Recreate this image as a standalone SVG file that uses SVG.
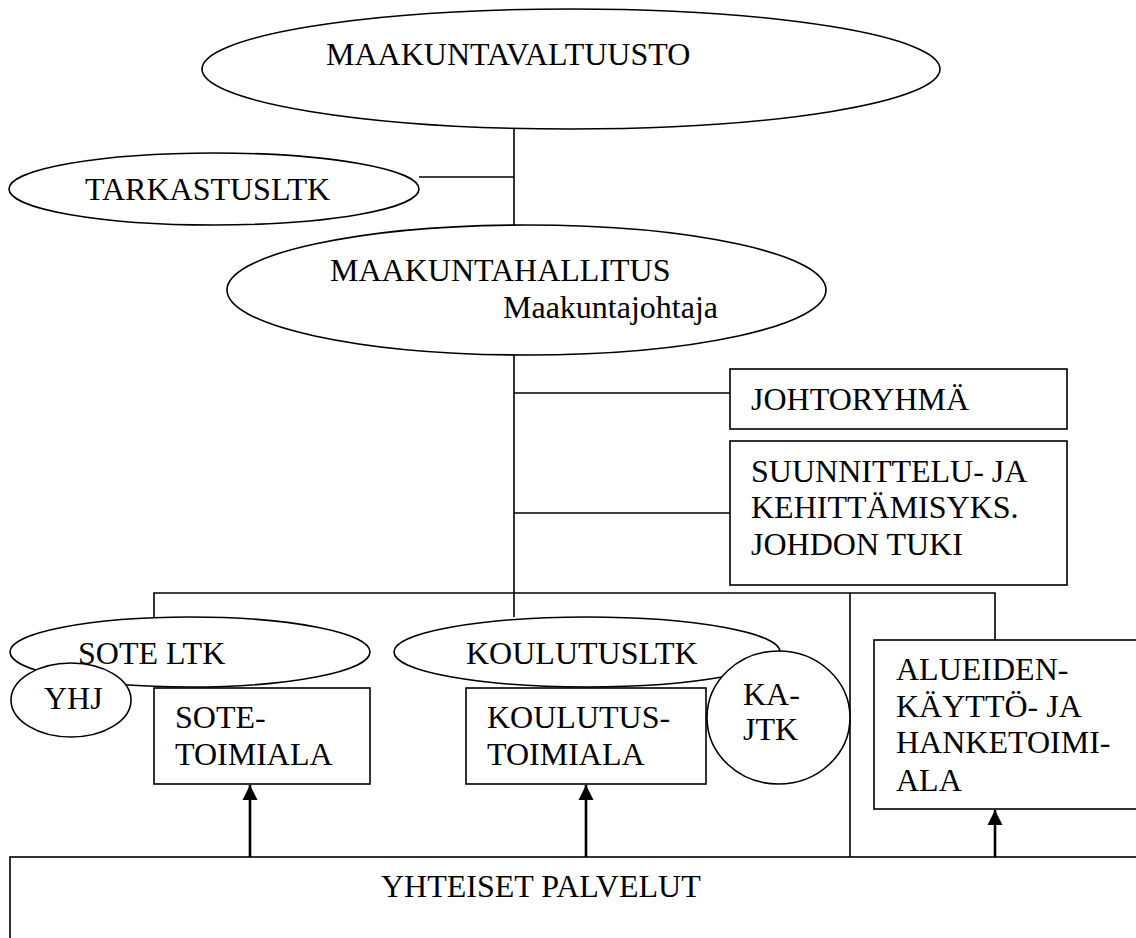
<svg xmlns="http://www.w3.org/2000/svg" width="1136" height="938" viewBox="0 0 1136 938">
  <style>
    .shape { fill: #fff; stroke: #000; stroke-width: 1.6; }
    .line { fill: none; stroke: #000; stroke-width: 1.6; }
    .arrow { fill: none; stroke: #000; stroke-width: 2.6; marker-end: url(#head); }
    text { font-family: 'Liberation Serif', serif; font-size: 32px; fill: #000; }
  </style>
  <defs>
    <marker id="head" markerUnits="userSpaceOnUse" markerWidth="16" markerHeight="16" refX="15" refY="8" orient="auto">
      <path d="M0,0.5 L15,8 L0,15.5 Z" fill="#000"/>
    </marker>
  </defs>
  <rect width="1136" height="938" fill="#fff"/>

  <!-- connectors: org-chart lines and the upward arrows from the shared services -->
  <g id="connectors">
    <path class="line" d="M514,128 V225"/>
    <path class="line" d="M419,177 H514"/>
    <path class="line" d="M514,355 V617"/>
    <path class="line" d="M514,393 H730"/>
    <path class="line" d="M514,513 H730"/>
    <path class="line" d="M154,617 V593 H995 V640"/>
    <path class="line" d="M850,593 V857"/>
    <path class="arrow" d="M250,857 V785"/>
    <path class="arrow" d="M586,857 V785"/>
    <path class="arrow" d="M995,857 V810"/>
  </g>

  <g id="maakuntavaltuusto">
    <ellipse class="shape" cx="571" cy="69" rx="369" ry="60"/>
    <text x="326" y="65">MAAKUNTAVALTUUSTO</text>
  </g>

  <g id="tarkastusltk">
    <ellipse class="shape" cx="214" cy="189" rx="205" ry="36"/>
    <text x="85" y="200">TARKASTUSLTK</text>
  </g>

  <g id="maakuntahallitus">
    <ellipse class="shape" cx="526.5" cy="290" rx="299.5" ry="65"/>
    <text x="330" y="281">MAAKUNTAHALLITUS</text>
    <text x="503" y="318">Maakuntajohtaja</text>
  </g>

  <g id="johtoryhma">
    <rect class="shape" x="730" y="369" width="337" height="60"/>
    <text x="751" y="410">JOHTORYHMÄ</text>
  </g>

  <g id="suunnittelu">
    <rect class="shape" x="730" y="441" width="337" height="144"/>
    <text x="751" y="482">SUUNNITTELU- JA</text>
    <text x="751" y="518">KEHITTÄMISYKS.</text>
    <text x="751" y="555">JOHDON TUKI</text>
  </g>

  <g id="sote-ltk">
    <ellipse class="shape" cx="190" cy="652" rx="180" ry="35"/>
    <text x="78" y="664">SOTE LTK</text>
  </g>

  <g id="yhj">
    <ellipse class="shape" cx="71" cy="700" rx="60" ry="37"/>
    <text x="44" y="709">YHJ</text>
  </g>

  <g id="sote-toimiala">
    <rect class="shape" x="154" y="688" width="216" height="96"/>
    <text x="175" y="728">SOTE-</text>
    <text x="175" y="765">TOIMIALA</text>
  </g>

  <g id="koulutusltk">
    <ellipse class="shape" cx="587" cy="652" rx="193" ry="35"/>
    <text x="466" y="664">KOULUTUSLTK</text>
  </g>

  <g id="koulutus-toimiala">
    <rect class="shape" x="466" y="688" width="240" height="96"/>
    <text x="487" y="728">KOULUTUS-</text>
    <text x="487" y="765">TOIMIALA</text>
  </g>

  <g id="ka-jtk">
    <ellipse class="shape" cx="778.5" cy="717.5" rx="71.5" ry="66.5"/>
    <text x="743" y="705">KA-</text>
    <text x="743" y="740">JTK</text>
  </g>

  <g id="alueidenkaytto">
    <rect class="shape" x="874" y="640" width="280" height="169"/>
    <text x="896" y="680">ALUEIDEN-</text>
    <text x="896" y="717">KÄYTTÖ- JA</text>
    <text x="896" y="753">HANKETOIMI-</text>
    <text x="896" y="791">ALA</text>
  </g>

  <g id="yhteiset-palvelut">
    <rect class="shape" x="10" y="857" width="1140" height="100"/>
    <text x="381" y="897">YHTEISET PALVELUT</text>
  </g>
</svg>
